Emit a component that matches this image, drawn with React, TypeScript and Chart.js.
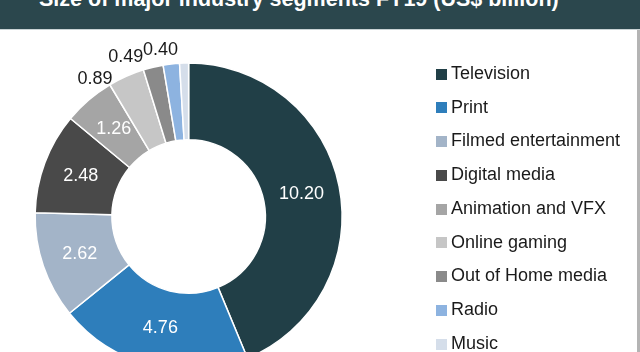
import React, { useEffect, useRef } from "react";
import { Chart, registerables } from "chart.js";

Chart.register(...registerables);

const TITLE = "Size of major industry segments FY19 (US$ billion)";
const SEGMENTS = [
  "Television",
  "Print",
  "Filmed entertainment",
  "Digital media",
  "Animation and VFX",
  "Online gaming",
  "Out of Home media",
  "Radio",
  "Music",
];
const VALUES = [10.2, 4.76, 2.62, 2.48, 1.26, 0.89, 0.49, 0.4, 0.22];
const VALUE_LABELS = ["10.20", "4.76", "2.62", "2.48", "1.26", "0.89", "0.49", "0.40", ""];
const COLORS = [
  "#213f47",
  "#2e7ebb",
  "#a3b4c8",
  "#494949",
  "#a5a5a5",
  "#c6c6c6",
  "#8a8a8a",
  "#8db3e0",
  "#d5deea",
];

const FONT = "'Liberation Sans', Arial, sans-serif";
const LEGEND_FONT_SIZE = 18;
const LEGEND_PAD = 15.75;
const CHART_RIGHT = 473.25; // chart area right edge inside the canvas
const CANVAS_H = 360;

// small placement nudges for the outside labels (collision avoidance, like the original)
const OUTSIDE_NUDGE: Record<number, [number, number]> = {
  5: [-25, 16],
  6: [-24, 4],
  7: [-9, 1],
};

const sliceLabels = {
  id: "sliceLabels",
  afterDatasetsDraw(chart: any) {
    const ctx = chart.ctx;
    const meta = chart.getDatasetMeta(0);
    ctx.save();
    ctx.font = `18px ${FONT}`;
    ctx.textAlign = "center";
    ctx.textBaseline = "middle";
    meta.data.forEach((arc: any, i: number) => {
      const text = VALUE_LABELS[i];
      if (!text) return;
      const { x, y, startAngle, endAngle, innerRadius, outerRadius } = arc.getProps(
        ["x", "y", "startAngle", "endAngle", "innerRadius", "outerRadius"],
        true
      );
      const mid = (startAngle + endAngle) / 2;
      const inside = VALUES[i] >= 1;
      const r = inside ? (innerRadius + outerRadius) / 2 : outerRadius + 15;
      const nudge = inside ? [0, 0] : OUTSIDE_NUDGE[i] || [0, 0];
      ctx.fillStyle = inside ? "#ffffff" : "#1a1a1a";
      ctx.fillText(text, x + Math.cos(mid) * r + nudge[0], y + Math.sin(mid) * r + nudge[1]);
    });
    ctx.restore();
  },
};

export default function App() {
  const canvasRef = useRef<HTMLCanvasElement | null>(null);

  useEffect(() => {
    const canvas = canvasRef.current;
    if (!canvas) return;
    Chart.defaults.font.family = FONT;

    // measure legend text so the legend box is its natural width
    const mctx = document.createElement("canvas").getContext("2d")!;
    mctx.font = `${LEGEND_FONT_SIZE}px ${FONT}`;
    const maxText = Math.max(...SEGMENTS.map((s) => mctx.measureText(s).width));
    const legendWidth = LEGEND_PAD + 1 + LEGEND_FONT_SIZE / 2 + maxText + 10;
    const W = Math.ceil(CHART_RIGHT + legendWidth) + 2;
    const padRight = W - CHART_RIGHT - legendWidth;
    canvas.width = W;
    canvas.height = CANVAS_H;
    canvas.style.width = W + "px";
    canvas.style.height = CANVAS_H + "px";

    const swatches = COLORS.map((c) => {
      const s = document.createElement("canvas");
      s.width = 11;
      s.height = 11;
      const sc = s.getContext("2d")!;
      sc.fillStyle = c;
      sc.fillRect(0, 0, 11, 11);
      return s;
    });

    const chart = new Chart(canvas, {
      type: "doughnut",
      data: {
        labels: SEGMENTS,
        datasets: [
          {
            data: VALUES,
            backgroundColor: COLORS,
            borderColor: "#ffffff",
            borderWidth: 1.5,
          },
        ],
      },
      plugins: [sliceLabels],
      options: {
        responsive: false,
        animation: false,
        radius: 153.5,
        cutout: "50%",
        layout: { padding: { left: 0, top: 19.25, right: padRight, bottom: 6.25 } },
        plugins: {
          tooltip: { enabled: false },
          title: { display: false },
          legend: {
            display: true,
            position: "right",
            align: "start",
            labels: {
              usePointStyle: true,
              pointStyleWidth: 1,
              padding: LEGEND_PAD,
              color: "#1a1a1a",
              font: { size: LEGEND_FONT_SIZE, family: FONT },
              generateLabels: () =>
                SEGMENTS.map((text, i) => ({
                  text,
                  fillStyle: COLORS[i],
                  strokeStyle: COLORS[i],
                  fontColor: "#1a1a1a",
                  lineWidth: 0,
                  hidden: false,
                  index: i,
                  pointStyle: swatches[i],
                })),
            },
          },
        },
      } as any,
    });
    return () => chart.destroy();
  }, []);

  return (
    <div
      style={{
        position: "fixed",
        left: 0,
        top: 0,
        width: 640,
        height: 352,
        overflow: "hidden",
        background: "#ffffff",
      }}
    >
      <canvas
        ref={canvasRef}
        width={694}
        height={CANVAS_H}
        style={{ position: "absolute", left: -48, top: 30, width: 694, height: CANVAS_H }}
      />
      <div
        style={{
          position: "absolute",
          left: 0,
          top: 0,
          width: 640,
          height: 29,
          background: "#2b474d",
          borderBottom: "1px solid #c9d3d5",
          overflow: "hidden",
        }}
      >
        <div
          style={{
            position: "absolute",
            left: 39,
            top: -11,
            font: `bold 21.5px ${FONT}`,
            lineHeight: "21.5px",
            color: "#ffffff",
            whiteSpace: "nowrap",
          }}
        >
          {TITLE}
        </div>
      </div>
      <div
        style={{
          position: "absolute",
          left: 637,
          top: 30,
          width: 3,
          height: 322,
          background: "#b4b4b4",
        }}
      />
    </div>
  );
}
